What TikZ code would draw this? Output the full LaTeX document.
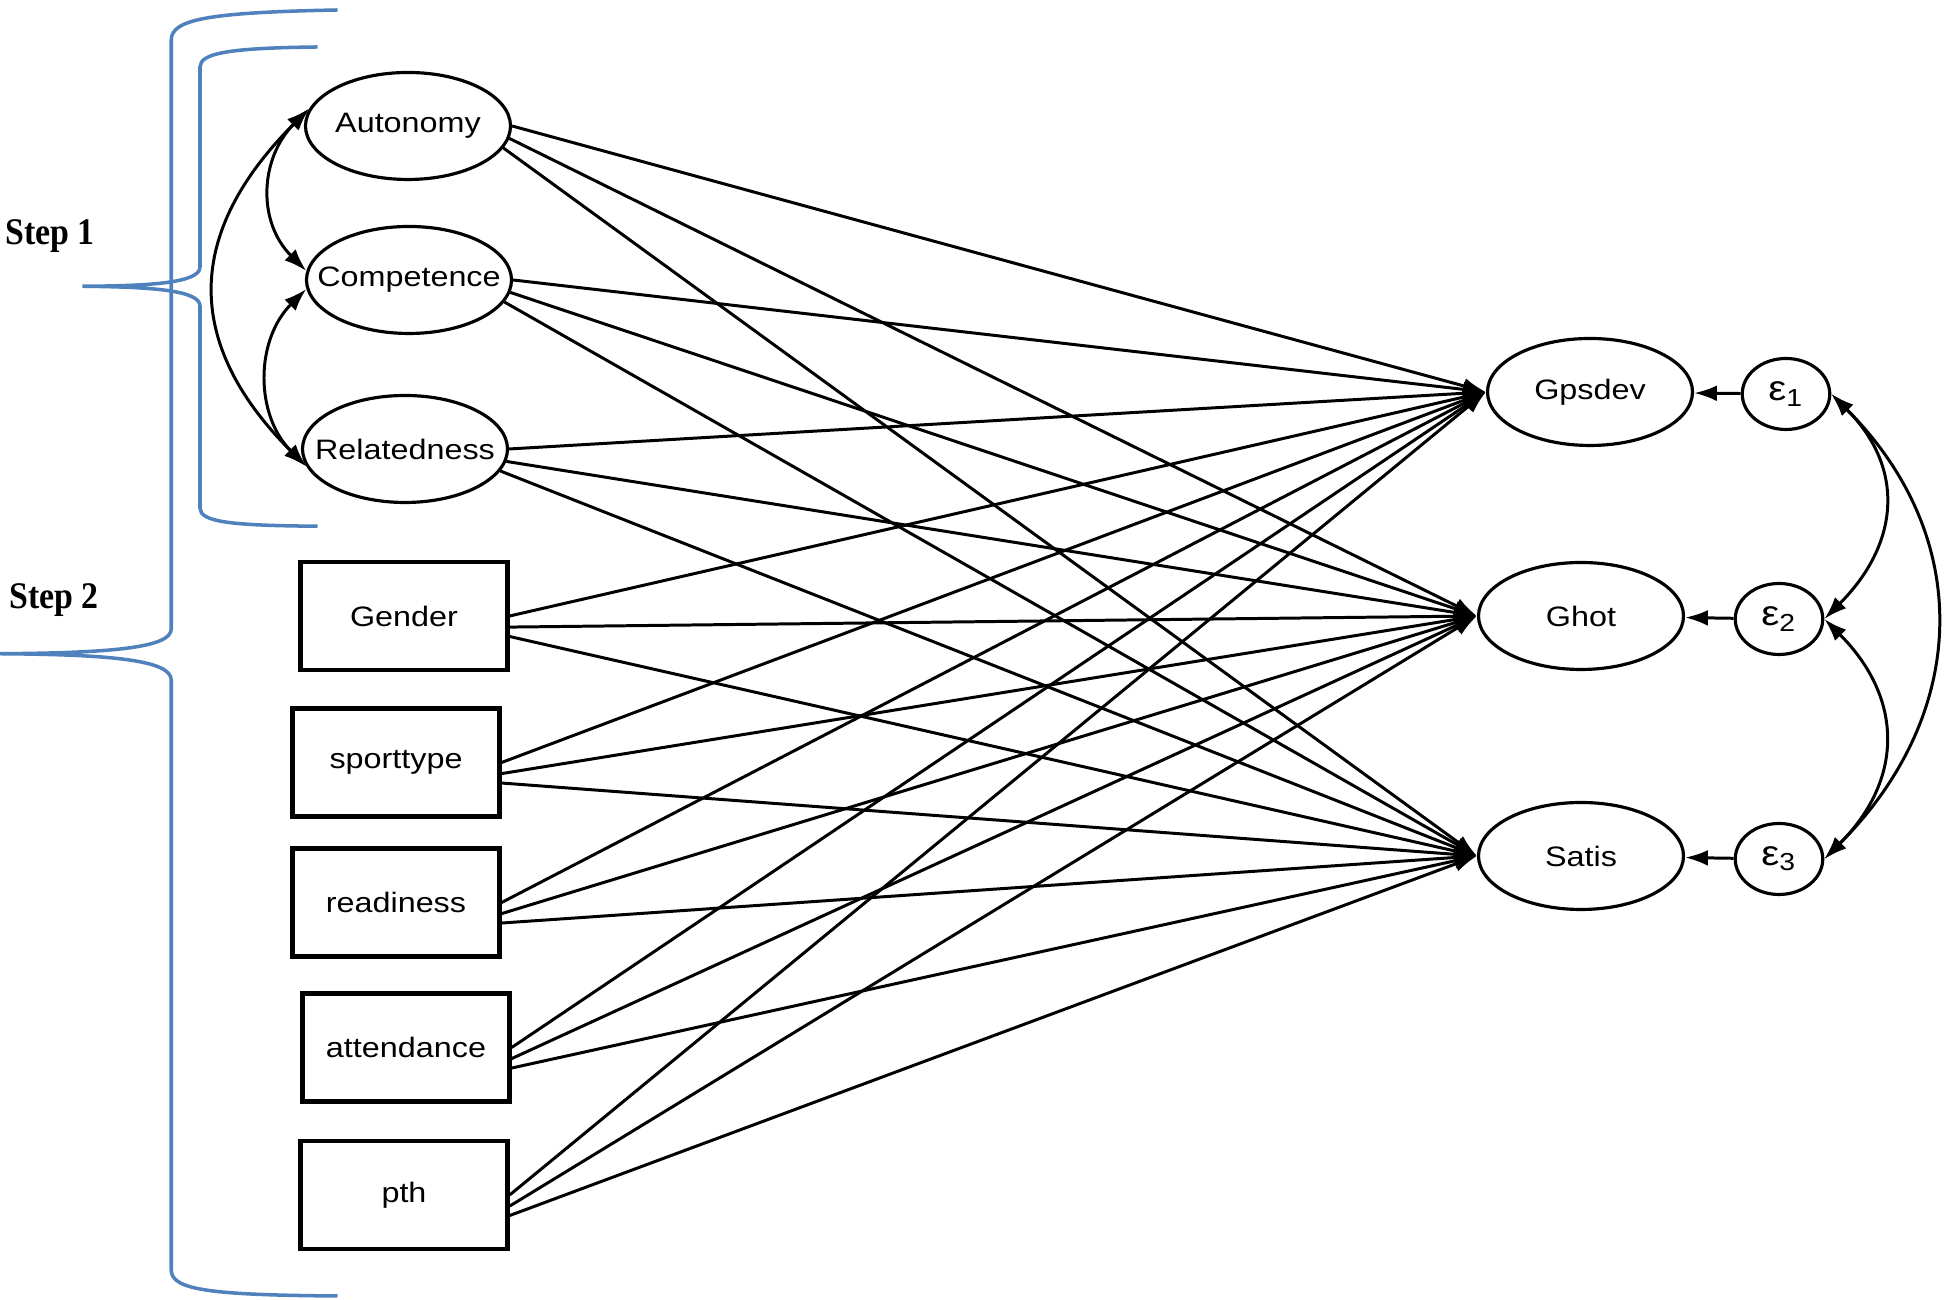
\documentclass[tikz,border=0pt]{standalone}
\usepackage{fontspec}
\newfontfamily\labelfont[FakeStretch=1.15]{Liberation Sans}
\newfontfamily\stepfont[FakeStretch=0.9]{Liberation Serif}
\usepackage{tikz}
\usetikzlibrary{arrows.meta, shapes.geometric}
\definecolor{bleu}{RGB}{79,129,189}
\tikzstyle{latent} = [ellipse, draw, line width=0.9pt, minimum width=2.05cm, minimum height=1.07cm, inner xsep=-8pt, font=\labelfont\fontsize{8}{10}\selectfont]
\tikzstyle{observed} = [rectangle, draw, line width=1.25pt, minimum width=2.07cm, minimum height=1.08cm, font=\labelfont\fontsize{8}{10}\selectfont]
\tikzstyle{erreur} = [ellipse, draw, line width=0.9pt, minimum width=0.875cm, minimum height=0.71cm, inner sep=0pt, font=\labelfont\fontsize{10}{12}\selectfont]
\tikzstyle{fleche} = [-{Latex[length=6.5pt,width=4.5pt]}, line width=0.85pt]
\tikzstyle{covar} = [{Latex[length=6.5pt,width=4.5pt]}-{Latex[length=6.5pt,width=4.5pt]}, line width=0.85pt]
\tikzstyle{accolade} = [color=bleu, line width=1pt]

\begin{document}
\begin{tikzpicture}
	\useasboundingbox (0,0) rectangle (19.6,13);

	\node[latent] (Aut) at (4.08,11.74) {Autonomy};
	\node[latent] (Comp) at (4.09,10.2) {Competence};
	\node[latent] (Rel) at (4.05,8.51) {Relatedness};

	\node[observed] (Gen) at (4.04,6.84) {Gender};
	\node[observed] (Spo) at (3.96,5.375) {sporttype};
	\node[observed] (Rea) at (3.96,3.975) {readiness};
	\node[observed] (Att) at (4.06,2.525) {attendance};
	\node[observed] (Pth) at (4.04,1.05) {pth};

	\node[latent] (Gps) at (15.9,9.08) {Gpsdev};
	\node[latent] (Gho) at (15.81,6.84) {Ghot};
	\node[latent] (Sat) at (15.81,4.44) {Satis};

	\node[erreur] (E1) at (17.86,9.06) {ε\textsubscript{1}};
	\node[erreur] (E2) at (17.79,6.81) {ε\textsubscript{2}};
	\node[erreur] (E3) at (17.79,4.41) {ε\textsubscript{3}};

	\node[font=\stepfont\bfseries\fontsize{10.7}{12}\selectfont] (S1) at (0.5,10.64) {Step 1};
	\node[font=\stepfont\bfseries\fontsize{10.7}{12}\selectfont] (S2) at (0.54,7.0) {Step 2};

	% accolades
	\draw[accolade] (3.375,12.9) .. controls (2.1,12.875) and (1.7125,12.81) .. (1.7125,12.6)
		-- (1.7125,6.71) .. controls (1.7125,6.52) and (1.1,6.47) .. (0,6.4625)
		.. controls (1.1,6.455) and (1.7125,6.4) .. (1.7125,6.2)
		-- (1.7125,0.3) .. controls (1.7125,0.1) and (2.1,0.05) .. (3.375,0.04);
	\draw[accolade] (3.175,12.53) .. controls (2.3,12.52) and (2.0,12.47) .. (2.0,12.33)
		-- (2.0,10.33) .. controls (2.0,10.17) and (1.5,10.14) .. (0.825,10.1375)
		.. controls (1.5,10.13) and (2.0,10.1) .. (2.0,9.94)
		-- (2.0,7.92) .. controls (2.0,7.78) and (2.3,7.745) .. (3.175,7.7375);

	% covariances
	\draw[covar] (Aut.170) to[out=225,in=135,looseness=1.1] (Comp.175);
	\draw[covar] (Comp.185) to[out=225,in=135,looseness=1.05] (Rel.190);
	\draw[covar] (Aut.170) to[out=225,in=135,looseness=1.25] (Rel.190);

	\draw[covar] (E1.east) to[out=-45,in=45,looseness=1.2] (E2.east);
	\draw[covar] (E2.east) to[out=-45,in=45,looseness=1.2] (E3.east);
	\draw[covar] (E1.east) to[out=-45,in=45,looseness=1.12] (E3.east);

	% erreurs
	\draw[fleche] (E1) -- (Gps);
	\draw[fleche] (E2) -- (Gho);
	\draw[fleche] (E3) -- (Sat);

	% effets
	\draw[fleche] (Aut.0) -- (Gps.west);
	\draw[fleche] (Aut.-7) -- (Gho.west);
	\draw[fleche] (Aut.-13) -- (Sat.west);
	\draw[fleche] (Comp.0) -- (Gps.west);
	\draw[fleche] (Comp.-7) -- (Gho.west);
	\draw[fleche] (Comp.-13) -- (Sat.west);
	\draw[fleche] (Rel.0) -- (Gps.west);
	\draw[fleche] (Rel.-7) -- (Gho.west);
	\draw[fleche] (Rel.-13) -- (Sat.west);
	\draw[fleche] (Gen.0) -- (Gps.west);
	\draw[fleche] (Gen.-6) -- (Gho.west);
	\draw[fleche] (Gen.-11) -- (Sat.west);
	\draw[fleche] (Spo.0) -- (Gps.west);
	\draw[fleche] (Spo.-6) -- (Gho.west);
	\draw[fleche] (Spo.-11) -- (Sat.west);
	\draw[fleche] (Rea.0) -- (Gps.west);
	\draw[fleche] (Rea.-6) -- (Gho.west);
	\draw[fleche] (Rea.-11) -- (Sat.west);
	\draw[fleche] (Att.0) -- (Gps.west);
	\draw[fleche] (Att.-6) -- (Gho.west);
	\draw[fleche] (Att.-11) -- (Sat.west);
	\draw[fleche] (Pth.0) -- (Gps.west);
	\draw[fleche] (Pth.-6) -- (Gho.west);
	\draw[fleche] (Pth.-11) -- (Sat.west);

\end{tikzpicture}
\end{document}
